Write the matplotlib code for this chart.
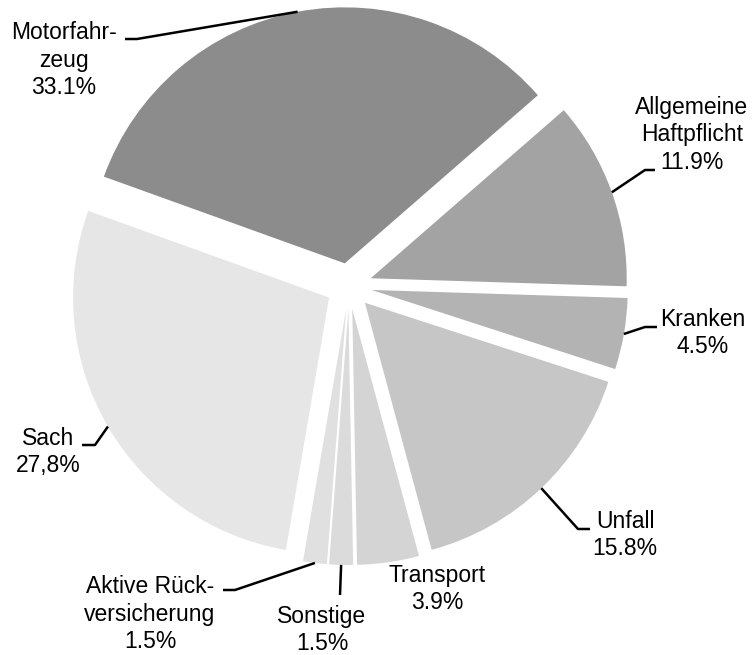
import numpy as np
import matplotlib.pyplot as plt

plt.rcParams['font.family'] = ['Liberation Sans', 'DejaVu Sans']

# Schadenanteile nach Sparte, im Uhrzeigersinn ab Motorfahrzeug
sparten = ["Motorfahr-\nzeug", "Allgemeine\nHaftpflicht", "Kranken", "Unfall",
           "Transport", "Sonstige", "Aktive Rück-\nversicherung", "Sach"]
anteile = [33.1, 11.9, 4.5, 15.8, 3.9, 1.5, 1.5, 27.8]
anteil_txt = ["33.1%", "11.9%", "4.5%", "15.8%", "3.9%", "1.5%", "1.5%", "27,8%"]
farben = ["#8c8c8c", "#a3a3a3", "#b3b3b3", "#c6c6c6",
          "#d4d4d4", "#dbdbdb", "#e0e0e0", "#e6e6e6"]

W, H = 756, 655
cx, cy, R = 349, 286, 256  # pixel layout of the pie


def px(x, y):
    return (x - cx) / R, (cy - y) / R


# label centre, leader end near the text, leader elbow (pixels)
label_pos = [(64, 60), (692, 135), (703, 333), (625, 535),
             (437, 589), (322, 630), (150, 614), (48, 452)]
leader_end = [(125, 39), (655, 170), (657, 327), (590, 529),
              None, (340, 595), (223, 590), (82, 445)]
leader_elbow = [(137, 39), (645, 170), (645, 327), (578, 529),
                None, None, (235, 590), (95, 445)]

fig = plt.figure(figsize=(W / 100, H / 100), dpi=100)
ax = fig.add_axes([0, 0, 1, 1])

explode = [0.09] * len(anteile)
wedges, _ = ax.pie(anteile, colors=farben, startangle=160.2, counterclock=False,
                   explode=explode, radius=1.0, wedgeprops=dict(linewidth=0))

for i, w in enumerate(wedges):
    ang = np.deg2rad((w.theta1 + w.theta2) / 2)
    ox, oy = w.center
    start = (ox + np.cos(ang), oy + np.sin(ang))
    lx, ly = px(*label_pos[i])
    ax.text(lx, ly, sparten[i] + "\n" + anteil_txt[i], ha="center", va="center",
            fontsize=16.5, linespacing=1.24, color="black")
    if leader_end[i] is None:
        continue
    pts = [start]
    if leader_elbow[i] is not None:
        pts.append(px(*leader_elbow[i]))
    pts.append(px(*leader_end[i]))
    xs, ys = zip(*pts)
    ax.plot(xs, ys, color="black", lw=1.8, solid_capstyle="butt")

ax.set_xlim(px(0, 0)[0], px(W, 0)[0])
ax.set_ylim(px(0, H)[1], px(0, 0)[1])
ax.set_aspect("auto")
ax.axis("off")

fig.savefig("out.png", dpi=100, facecolor="white")
